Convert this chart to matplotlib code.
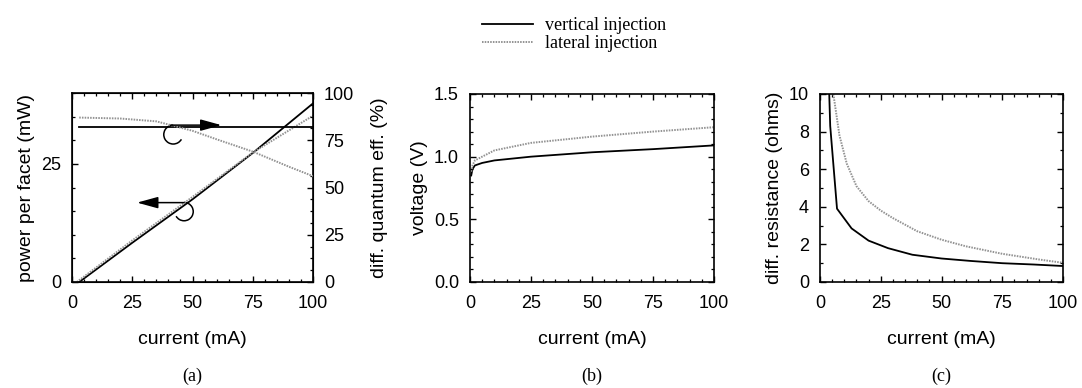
import matplotlib
matplotlib.use('Agg')
import matplotlib.pyplot as plt
import matplotlib.transforms as mtransforms
from matplotlib.patches import Arc
from matplotlib.ticker import MultipleLocator

# (a) power per facet and differential quantum efficiency vs current
cur_pow_vert = [3, 25, 50, 75, 100]
pow_vert = [0, 8.3, 17.5, 27.3, 37.8]
cur_pow_lat = [2, 25, 50, 75, 100]
pow_lat = [0, 8.8, 18.0, 27.4, 35.2]
cur_eff_vert = [3, 100]
eff_vert = [82, 82]
cur_eff_lat = [3, 20, 35, 50, 60, 75, 90, 100]
eff_lat = [87, 86.5, 85, 80, 75.5, 69, 61, 56]

# (b) voltage vs current
cur_v = [0.5, 1, 2, 5, 10, 25, 50, 75, 100]
volt_vert = [0.85, 0.90, 0.93, 0.95, 0.97, 1.0, 1.035, 1.06, 1.09]
volt_lat = [0.88, 0.93, 0.97, 1.0, 1.05, 1.11, 1.16, 1.20, 1.235]

# (c) differential resistance vs current
cur_r_vert = [3.8, 4.2, 7, 13, 20, 28, 38, 50, 62, 75, 88, 100]
res_vert = [10, 8.3, 3.9, 2.85, 2.2, 1.8, 1.45, 1.25, 1.12, 1.0, 0.93, 0.85]
cur_r_lat = [5.5, 8, 11, 15, 20, 25, 30, 40, 50, 60, 75, 90, 100]
res_lat = [10, 7.8, 6.3, 5.1, 4.3, 3.8, 3.4, 2.7, 2.25, 1.9, 1.5, 1.2, 1.02]

labels = ['vertical injection', 'lateral injection']
captions = ['(a)', '(b)', '(c)']

plt.rcParams['font.family'] = ['Liberation Sans', 'DejaVu Sans']
plt.rcParams['xtick.direction'] = 'in'
plt.rcParams['ytick.direction'] = 'in'

W, H = 1082, 388
fig = plt.figure(figsize=(W / 100, H / 100), dpi=100)

def px_axes(left, right, top, bottom):
    return fig.add_axes([left / W, 1 - bottom / H, (right - left) / W, (bottom - top) / H])

ax_a = px_axes(72, 313, 93, 282)
ax_b = px_axes(470, 714, 94, 282)
ax_c = px_axes(820, 1063, 94, 282)

solid = dict(color='black', lw=1.3)
dotted = dict(color='#939393', lw=1.4, ls=(0, (0.8, 0.6)))

TICK_FS = 13
LABEL_FS = 14

def style(ax, xminor, yminor, right=True):
    ax.set_xlim(0, 100)
    ax.xaxis.set_major_locator(MultipleLocator(25))
    ax.xaxis.set_minor_locator(MultipleLocator(xminor))
    ax.yaxis.set_minor_locator(MultipleLocator(yminor))
    ax.tick_params(which='both', top=True, right=right, labelsize=TICK_FS)
    ax.tick_params(axis='x', which='both', pad=9)
    ax.tick_params(axis='y', which='both', pad=8)
    ax.tick_params(which='major', length=4, width=1)
    ax.tick_params(which='minor', length=2.5, width=0.9)
    for s in ax.spines.values():
        s.set_linewidth(1.2)
    ax.set_xlabel('current (mA)', fontsize=LABEL_FS, labelpad=14)

# panel (a)
ax_a2 = ax_a.twinx()
ax_a.plot(cur_pow_vert, pow_vert, **solid)
ax_a.plot(cur_pow_lat, pow_lat, **dotted)
ax_a2.plot(cur_eff_vert, eff_vert, **solid)
ax_a2.plot(cur_eff_lat, eff_lat, **dotted)
ax_a.set_ylim(0, 40)
ax_a.set_yticks([0, 25])
style(ax_a, 5, 5, right=False)
ax_a2.set_ylim(0, 100)
ax_a2.yaxis.set_major_locator(MultipleLocator(25))
ax_a2.yaxis.set_minor_locator(MultipleLocator(6.25))
ax_a2.tick_params(which='both', labelsize=TICK_FS, pad=8)
ax_a2.tick_params(which='major', length=4, width=1)
ax_a2.tick_params(which='minor', length=2.5, width=0.9)
ax_a.set_ylabel('power per facet (mW)', fontsize=LABEL_FS, labelpad=4)
ax_a2.set_ylabel('diff. quantum eff. (%)', fontsize=LABEL_FS, labelpad=12)

# arrows with curls showing which axis each curve pair belongs to
arrow = dict(arrowstyle='-|>,head_length=0.8,head_width=0.22', color='black',
             lw=1.1, mutation_scale=16, shrinkA=0, shrinkB=0)
ax_a2.annotate('', xy=(62, 83), xytext=(41, 83), arrowprops=arrow)
ax_a.annotate('', xy=(27, 16.8), xytext=(46.5, 16.8), arrowprops=arrow)

def curl(ax, x, y, r_pt, t1, t2):
    tr = mtransforms.Affine2D().scale(fig.dpi / 72) + \
        mtransforms.ScaledTranslation(x, y, ax.transData)
    ax.add_patch(Arc((0, 0), 2 * r_pt, 2 * r_pt, theta1=t1, theta2=t2,
                     transform=tr, color='black', lw=1.1))

curl(ax_a2, 42, 78, 6.8, 90, 330)
curl(ax_a, 46.5, 14.9, 6.6, 210, 90)

# panel (b)
ax_b.plot(cur_v, volt_vert, label=labels[0], **solid)
ax_b.plot(cur_v, volt_lat, label=labels[1], **dotted)
ax_b.set_ylim(0, 1.5)
ax_b.yaxis.set_major_locator(MultipleLocator(0.5))
ax_b.yaxis.set_major_formatter('{x:.1f}')
style(ax_b, 5, 0.1)
ax_b.set_ylabel('voltage (V)', fontsize=LABEL_FS, labelpad=4)

# panel (c)
ax_c.plot(cur_r_vert, res_vert, **solid)
ax_c.plot(cur_r_lat, res_lat, **dotted)
ax_c.set_ylim(0, 10)
ax_c.yaxis.set_major_locator(MultipleLocator(2))
style(ax_c, 5, 1)
ax_c.set_ylabel('diff. resistance (ohms)', fontsize=LABEL_FS, labelpad=4)

for ax, cap in zip([ax_a, ax_b, ax_c], captions):
    ax.text(0.5, -0.50, cap, transform=ax.transAxes, ha='center', va='center',
            fontsize=13, family=['Liberation Serif', 'DejaVu Serif'])

h, l = ax_b.get_legend_handles_labels()
fig.legend(h, l, loc='upper left', bbox_to_anchor=(482 / W, 1 - 17 / H),
           frameon=False, borderpad=0, borderaxespad=0, handlelength=2.8,
           handletextpad=0.7, labelspacing=0.05,
           prop=dict(family=['Liberation Serif', 'DejaVu Serif'], size=13))

fig.savefig('out.png', dpi=100)
